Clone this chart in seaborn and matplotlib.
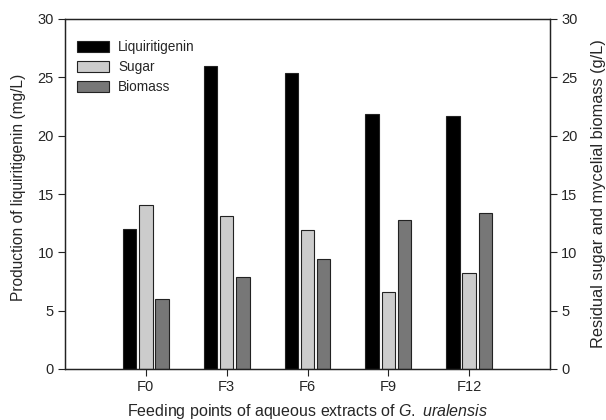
import matplotlib
matplotlib.use("Agg")
import matplotlib.pyplot as plt
import seaborn as sns
import pandas as pd

categories = ["F0", "F3", "F6", "F9", "F12"]
liquiritigenin = [12.0, 26.0, 25.4, 21.9, 21.7]
sugar = [14.1, 13.1, 11.9, 6.6, 8.2]
biomass = [6.0, 7.9, 9.4, 12.8, 13.4]
series_names = ["Liquiritigenin", "Sugar", "Biomass"]
colors = ["#000000", "#cccccc", "#777777"]

sns.set_theme(style="white")
plt.rcParams["font.family"] = ["Liberation Sans", "DejaVu Sans"]
plt.rcParams["mathtext.fontset"] = "custom"
plt.rcParams["mathtext.rm"] = "Liberation Sans"
plt.rcParams["mathtext.it"] = "Liberation Sans:italic"

rows = []
for name, vals in zip(series_names, [liquiritigenin, sugar, biomass]):
    for c, v in zip(categories, vals):
        rows.append({"cat": c, "series": name, "value": v})
df = pd.DataFrame(rows)

fig = plt.figure(figsize=(6.06, 4.2), dpi=100)
ax = fig.add_axes([65/606, 1 - 369/420, (550 - 65)/606, (369 - 19)/420])

sns.barplot(data=df, x="cat", y="value", hue="series", order=categories,
            hue_order=series_names, palette=colors, width=0.6, gap=0.17,
            edgecolor="#222222", linewidth=0.8, ax=ax)

ax.set_xlim(-1, 5)
ax.set_ylim(0, 30)
ax.set_yticks(range(0, 31, 5))
ax.set_xlabel("Feeding points of aqueous extracts of $\\mathit{G.\\ uralensis}$",
              fontsize=11.5, labelpad=6)
ax.set_ylabel("Production of liquiritigenin (mg/L)", fontsize=11.2)
ax.yaxis.set_label_coords(-0.08, 0.52)
ax.tick_params(axis="both", direction="out", length=5, width=0.8, labelsize=10.5,
               bottom=True, left=True, color="#222222", pad=3)
for s in ax.spines.values():
    s.set_color("#222222")
    s.set_linewidth(0.9)

ax2 = ax.twinx()
ax2.set_ylim(0, 30)
ax2.set_yticks(range(0, 31, 5))
ax2.set_ylabel("Residual sugar and mycelial biomass (g/L)", fontsize=11.8, labelpad=10)
ax2.tick_params(axis="y", direction="out", length=5, width=0.8, labelsize=10.5,
                right=True, color="#222222", pad=3)
for s in ax2.spines.values():
    s.set_color("#222222")
    s.set_linewidth(0.9)

leg = ax.legend(loc="upper left", bbox_to_anchor=(0.0, 0.975), frameon=False,
                fontsize=9.8, handlelength=2.3, handleheight=0.85,
                labelspacing=0.45, handletextpad=0.7, borderaxespad=0.5)
for h in leg.legend_handles:
    h.set_edgecolor("#222222")

fig.savefig("out.png", dpi=100)
